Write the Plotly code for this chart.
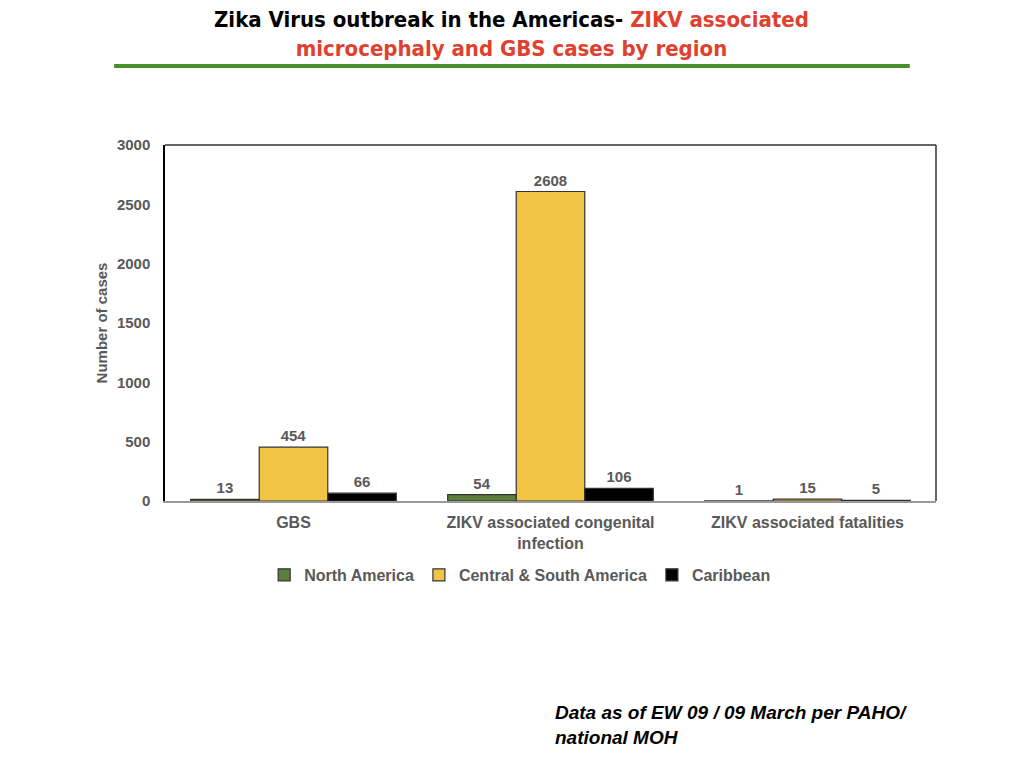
import plotly.graph_objects as go

categories = ["GBS", "ZIKV associated congenital<br>infection", "ZIKV associated fatalities"]
north_america = [13, 54, 1]
central_south = [454, 2608, 15]
caribbean = [66, 106, 5]

series = [
    ("North America", north_america, "#5b7f3b"),
    ("Central & South America", central_south, "#f2c443"),
    ("Caribbean", caribbean, "#000000"),
]

grey = "#595959"
red = "#e0412f"

fig = go.Figure()
for name, vals, col in series:
    fig.add_trace(go.Bar(
        x=categories, y=vals, name="<b>" + name + "</b>",
        marker=dict(color=col, line=dict(color="#333333", width=1.2)),
        text=vals, texttemplate="<b>%{y}</b>", textposition="outside", cliponaxis=False,
        textfont=dict(family="Liberation Sans", size=15, color=grey),
    ))

fig.update_layout(
    width=1024, height=768,
    paper_bgcolor="white", plot_bgcolor="white",
    margin=dict(l=157, r=96, t=137, b=275),
    barmode="group", bargap=0.2, bargroupgap=0,
    font=dict(family="Liberation Sans", color=grey),
    showlegend=True,
    legend=dict(orientation="h", x=0.46, xanchor="center", y=-0.16, yanchor="top",
                font=dict(size=16, color=grey), traceorder="normal",
                itemwidth=30),
    xaxis=dict(showline=True, linecolor="#999999", linewidth=1.5,
               tickfont=dict(size=16, color=grey), ticks="", ticklabelstandoff=6,
               tickvals=categories, ticktext=["<b>" + c + "</b>" for c in categories]),
    yaxis=dict(range=[0, 3000], showgrid=False, zeroline=False,
               showline=True, linecolor="#000000", linewidth=1.5,
               tickfont=dict(size=15, color=grey), ticks="", ticklabelstandoff=10,
               tickvals=list(range(0, 3001, 500)),
               ticktext=["<b>%d</b>" % v for v in range(0, 3001, 500)],
               title=dict(text="<b>Number of cases</b>", font=dict(size=15, color=grey), standoff=6)),
    shapes=[
        dict(type="line", xref="paper", yref="paper", x0=0, x1=1, y0=1, y1=1,
             line=dict(color="#333333", width=1.5)),
        dict(type="line", xref="paper", yref="paper", x0=1, x1=1, y0=0, y1=1,
             line=dict(color="#333333", width=1.5)),
        dict(type="line", xref="paper", yref="paper", x0=-0.066, x1=0.966, y0=1.222, y1=1.222,
             line=dict(color="#4a8f2e", width=4)),
    ],
    annotations=[
        dict(text="<b>Zika Virus outbreak in the Americas- <span style='color:" + red + "'>ZIKV associated</span></b><br>"
                  "<b><span style='color:" + red + "'>microcephaly and GBS cases by region</span></b>",
             xref="paper", yref="paper", x=0.45, y=1.312, xanchor="center", yanchor="middle",
             showarrow=False, align="center",
             font=dict(family="DejaVu Sans Condensed, Liberation Sans", size=22, color="#000000")),
        dict(text="<b><i>Data as of EW 09 / 09 March per PAHO/<br>national MOH</i></b>",
             xref="paper", yref="paper", x=0.503, y=-0.629, xanchor="left", yanchor="middle",
             showarrow=False, align="left",
             font=dict(family="Liberation Sans", size=19, color="#000000")),
    ],
)

fig.write_html("out.html")
